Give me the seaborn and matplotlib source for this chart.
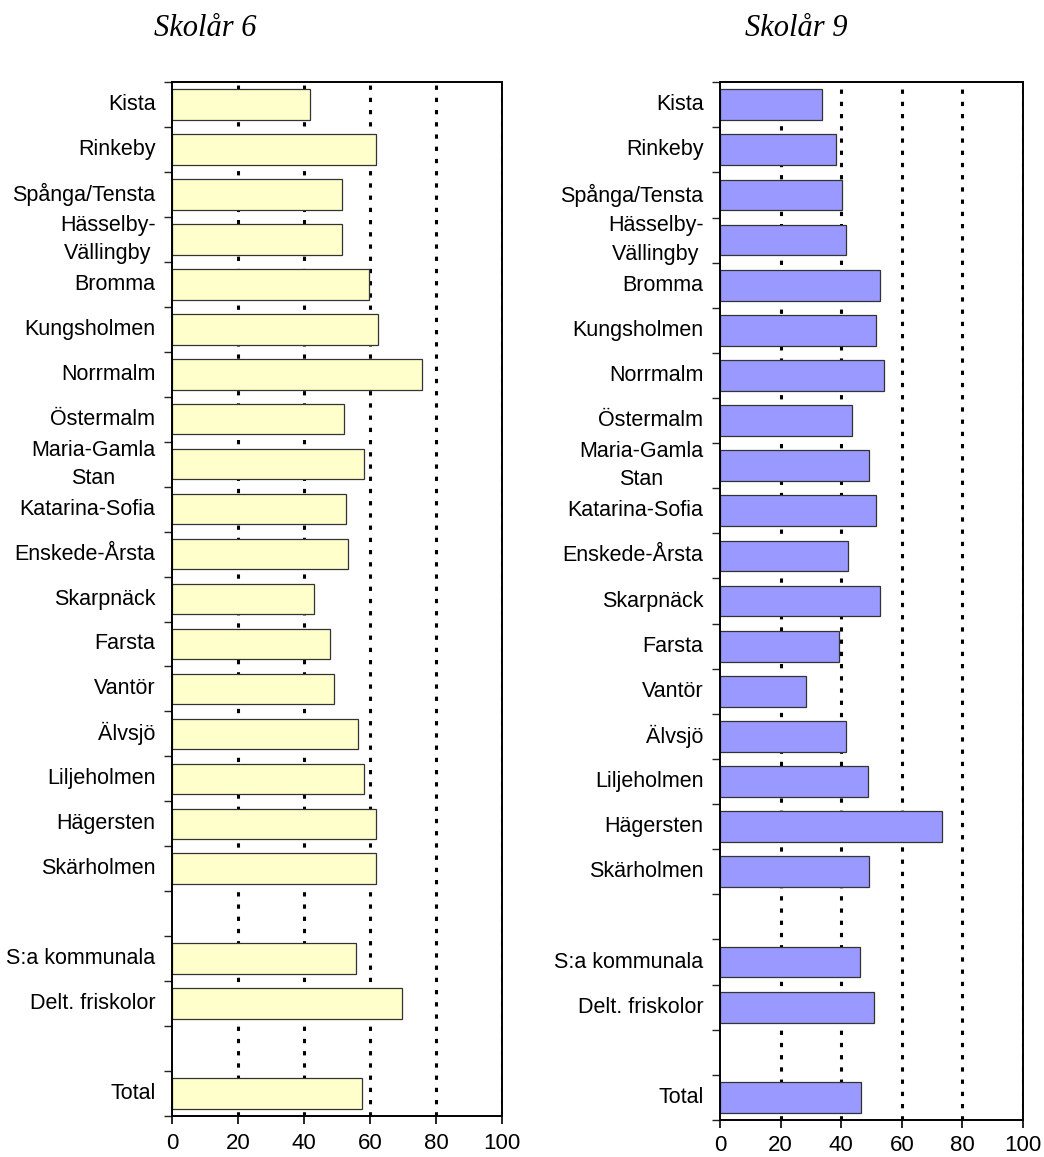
import numpy as np
import pandas as pd
import matplotlib
matplotlib.use('Agg')
import matplotlib.pyplot as plt
import seaborn as sns

# Områden, tomma rader som luft mellan grupperna
labels = ['Kista', 'Rinkeby', 'Spånga/Tensta', 'Hässelby-\nVällingby', 'Bromma',
          'Kungsholmen', 'Norrmalm', 'Östermalm', 'Maria-Gamla\nStan', 'Katarina-Sofia',
          'Enskede-Årsta', 'Skarpnäck', 'Farsta', 'Vantör', 'Älvsjö', 'Liljeholmen',
          'Hägersten', 'Skärholmen', '', 'S:a kommunala', 'Delt. friskolor', ' ', 'Total']

skolar6 = [41.8, 61.7, 51.4, 51.4, 59.8, 62.3, 75.7, 52.0, 58.1, 52.6, 53.2,
           42.9, 47.9, 49.0, 56.3, 58.1, 61.7, 61.7, None, 55.7, 69.6, None, 57.5]
skolar9 = [33.8, 38.3, 40.4, 41.6, 52.7, 51.4, 54.0, 43.5, 49.3, 51.4, 42.1,
           52.7, 39.1, 28.5, 41.6, 48.7, 73.2, 49.3, None, 46.1, 50.7, None, 46.6]

titles = ['Skolår 6', 'Skolår 9']
colors = ['#FFFFCC', '#9999FF']
xticks = [0, 20, 40, 60, 80, 100]

sns.set_theme(style='white')
plt.rcParams['font.family'] = ['Liberation Sans', 'DejaVu Sans']
plt.rcParams['text.color'] = 'black'
plt.rcParams['xtick.color'] = 'black'
plt.rcParams['ytick.color'] = 'black'

fig = plt.figure(figsize=(10.44, 11.57), dpi=100)
ax1 = fig.add_axes([0.1648, 0.0354, 0.3161, 0.8937])
ax2 = fig.add_axes([0.6897, 0.032, 0.2902, 0.897])

for ax, vals, col, title, tx, xpad in [(ax1, skolar6, colors[0], titles[0], 0.197, 6),
                                       (ax2, skolar9, colors[1], titles[1], 0.763, 5)]:
    df = pd.DataFrame({'omrade': labels, 'andel': vals}).dropna()
    sns.barplot(data=df, x='andel', y='omrade', order=labels, orient='h',
                color=col, saturation=1, edgecolor='#333333', linewidth=0.9,
                width=0.68, errorbar=None, ax=ax, zorder=3)
    ax.set_xlim(0, 100)
    ax.set_ylim(len(labels) - 0.5, -0.5)
    ax.set_xticks(xticks)
    ax.set_xticklabels([str(t) for t in xticks], fontsize=16)
    ax.set_yticks(range(len(labels)))
    ax.set_yticklabels(labels, fontsize=15.5, multialignment='center',
                       linespacing=1.45, va='center')
    ax.set_yticks(np.arange(-0.5, len(labels), 1), minor=True)
    ax.tick_params(axis='y', which='major', length=0, pad=12)
    ax.tick_params(axis='y', which='minor', length=6, width=1, color='#222222',
                   direction='out', left=True)
    ax.tick_params(axis='x', which='major', length=6, width=1.2, color='black',
                   direction='out', bottom=True, pad=xpad)
    ax.set_xlabel('')
    ax.set_ylabel('')
    ax.xaxis.grid(True, color='black', linestyle=(0, (1.4, 2.6)), linewidth=2.2)
    ax.xaxis.get_gridlines()[0].set_visible(False)
    ax.yaxis.grid(False)
    ax.set_axisbelow(True)
    for sp in ax.spines.values():
        sp.set_visible(True)
        sp.set_color('black')
        sp.set_linewidth(1.4)
        sp.set_zorder(4)
    fig.text(tx, 0.975, title, ha='center', va='center', fontsize=22,
             style='italic', family='Liberation Serif')

fig.savefig('out.png', dpi=100)
